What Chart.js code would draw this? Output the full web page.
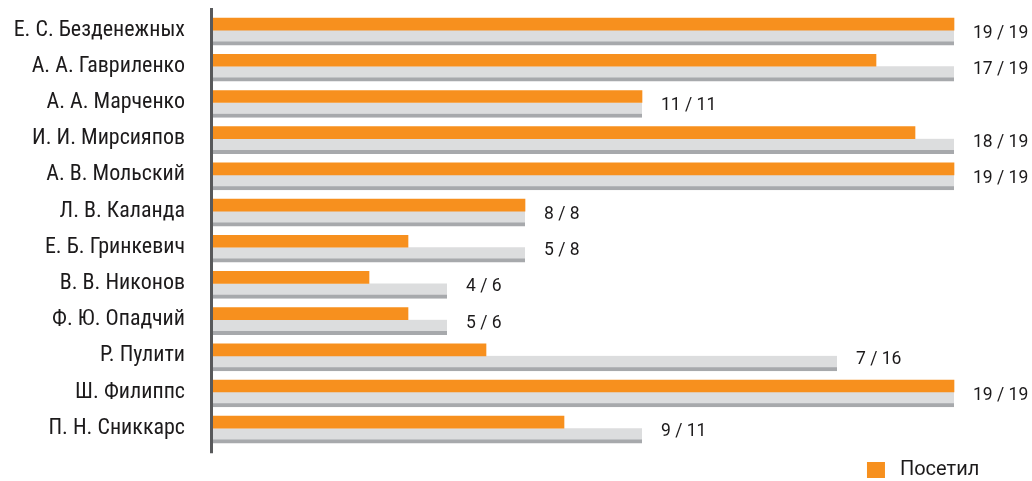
<!DOCTYPE html>
<html>
<head>
<meta charset="utf-8">
<script src="https://cdn.jsdelivr.net/npm/chart.js@4"></script>
<style>
  html, body { margin: 0; padding: 0; background: #fff; }
  #wrap { width: 1032px; height: 481px; }
</style>
</head>
<body>
<div id="wrap"><canvas id="c"></canvas></div>
<script>
// Meeting attendance per board member
const members = [
  'Е. С. Безденежных', 'А. А. Гавриленко', 'А. А. Марченко', 'И. И. Мирсияпов',
  'А. В. Мольский', 'Л. В. Каланда', 'Е. Б. Гринкевич', 'В. В. Никонов',
  'Ф. Ю. Опадчий', 'Р. Пулити', 'Ш. Филиппс', 'П. Н. Сниккарс'
];
const attended = [19, 17, 11, 18, 19, 8, 5, 4, 5, 7, 19, 9];
const possible = [19, 19, 11, 19, 19, 8, 8, 6, 6, 16, 19, 11];
const legendLabel = 'Посетил';

const NAME_FONT = '"Roboto Condensed", Roboto, sans-serif';
const FONT = 'Roboto, "Liberation Sans", sans-serif';
const TEXT = '#1c1a1b';

// "attended / possible" caption after each grey bar
const ratioLabels = {
  id: 'ratioLabels',
  afterDatasetsDraw(chart) {
    const meta = chart.getDatasetMeta(1);
    const ctx = chart.ctx;
    ctx.save();
    ctx.font = '17.5px ' + FONT;
    ctx.fillStyle = TEXT;
    ctx.textAlign = 'left';
    ctx.textBaseline = 'middle';
    meta.data.forEach((bar, i) => {
      ctx.fillText(attended[i] + ' / ' + possible[i], bar.x + 19, bar.y - 4);
    });
    ctx.restore();
  }
};

// vertical axis rule, slightly longer than the plot area
const axisRule = {
  id: 'axisRule',
  afterDraw(chart) {
    const a = chart.chartArea;
    const ctx = chart.ctx;
    ctx.save();
    ctx.strokeStyle = '#58595b';
    ctx.lineWidth = 3;
    ctx.beginPath();
    ctx.moveTo(a.left - 1.5, a.top - 4);
    ctx.lineTo(a.left - 1.5, a.bottom + 7);
    ctx.stroke();
    ctx.restore();
  }
};

new Chart(document.getElementById('c'), {
  type: 'bar',
  data: {
    labels: members,
    datasets: [
      {
        label: legendLabel,
        data: attended,
        backgroundColor: '#f7901e',
        borderWidth: 0,
        barThickness: 12
      },
      {
        label: 'Всего',
        data: possible,
        backgroundColor: '#dcddde',
        borderColor: '#a7a9ac',
        borderWidth: { top: 0, left: 0, right: 0, bottom: 4 },
        borderSkipped: false,
        barThickness: 15
      }
    ]
  },
  options: {
    indexAxis: 'y',
    responsive: true,
    maintainAspectRatio: false,
    animation: false,
    layout: { padding: { top: 12, right: 39, bottom: -9, left: 0 } },
    scales: {
      x: {
        min: 0,
        max: 20,
        display: false
      },
      y: {
        grid: { display: false, drawTicks: false },
        border: { display: false },
        ticks: {
          color: TEXT,
          font: { family: NAME_FONT, size: 22 },
          padding: 28
        },
        afterFit(scale) {
          scale.width = 213;
          scale.paddingTop = 0;
          scale.paddingBottom = 0;
        }
      }
    },
    plugins: {
      legend: {
        position: 'bottom',
        align: 'end',
        labels: {
          filter: (item) => item.datasetIndex === 0,
          generateLabels(chart) {
            const items = Chart.defaults.plugins.legend.labels.generateLabels(chart);
            items.forEach((it) => { it.text = ' ' + it.text; });
            return items;
          },
          boxWidth: 18,
          boxHeight: 16,
          color: TEXT,
          font: { family: FONT, size: 20 },
          padding: 13.7
        }
      },
      tooltip: { enabled: false }
    }
  },
  plugins: [ratioLabels, axisRule]
});
</script>
</body>
</html>
